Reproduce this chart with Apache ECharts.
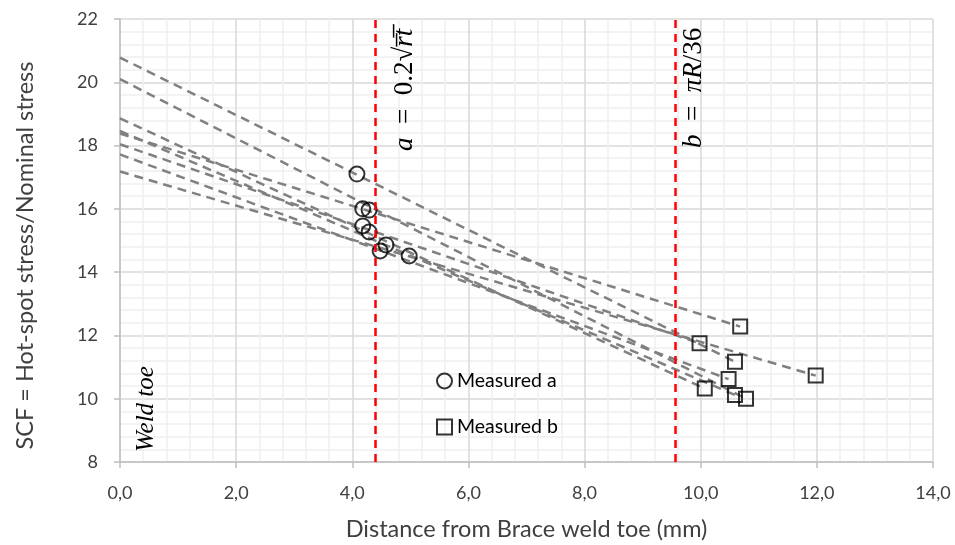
<!DOCTYPE html>
<html>
<head>
<meta charset="utf-8">
<script src="https://cdn.jsdelivr.net/npm/echarts@6/dist/echarts.min.js"></script>
<style>
html,body{margin:0;padding:0;background:#fff;}
#chart{width:955px;height:545px;}
</style>
</head>
<body>
<div id="chart"></div>
<script>
// ---- data ----
var measuredAX = [4.08, 4.18, 4.29, 4.18, 4.29, 4.58, 4.48, 4.98];
var measuredAY = [17.10, 16.00, 15.96, 15.46, 15.27, 14.86, 14.67, 14.51];
var measuredBX = [10.68, 9.98, 10.59, 10.48, 10.07, 10.59, 10.78, 11.98];
var measuredBY = [12.28, 11.75, 11.17, 10.62, 10.32, 10.12, 10.00, 10.73];
// extrapolated trend lines: value at weld toe (x = 0) and end point
var trendStartY = [20.78, 20.10, 18.86, 18.46, 18.38, 18.04, 17.72, 17.18];
var trendEndX = [10.59, 10.78, 10.07, 10.59, 10.68, 9.98, 10.48, 11.98];
var trendEndY = [11.17, 10.00, 10.32, 10.12, 12.28, 11.75, 10.62, 10.73];
var limitA = 4.4;
var limitB = 9.56;
var xTicks = [0, 2, 4, 6, 8, 10, 12, 14];
var yTicks = [8, 10, 12, 14, 16, 18, 20, 22];

var FONT = 'Lato';
var chart = echarts.init(document.getElementById('chart'));

var series = [];
for (var i = 0; i < trendStartY.length; i++) {
  series.push({
    type: 'line',
    name: 'trend' + i,
    data: [[0, trendStartY[i]], [trendEndX[i], trendEndY[i]]],
    symbol: 'none',
    silent: true,
    lineStyle: { color: '#808080', width: 2.5, type: [9, 6] },
    z: 2
  });
}
series.push({
  type: 'line',
  name: 'limits',
  data: [],
  markLine: {
    silent: true,
    symbol: 'none',
    label: { show: false },
    lineStyle: { color: '#ff0000', width: 2.5, type: [8, 6] },
    data: [{ xAxis: limitA }, { xAxis: limitB }]
  },
  z: 3
});
series.push({
  type: 'scatter',
  name: 'Measured a',
  symbol: 'circle',
  symbolSize: 15,
  data: measuredAX.map(function (x, i) { return [x, measuredAY[i]]; }),
  itemStyle: { color: 'rgba(255,255,255,0)', borderColor: '#000', borderWidth: 2 },
  z: 4
});
series.push({
  type: 'scatter',
  name: 'Measured b',
  symbol: 'rect',
  symbolSize: 14,
  data: measuredBX.map(function (x, i) { return [x, measuredBY[i]]; }),
  itemStyle: { color: 'rgba(255,255,255,0)', borderColor: '#000', borderWidth: 2 },
  z: 4
});

var axisCommon = {
  axisLine: { show: true, onZero: false, lineStyle: { color: '#bfbfbf', width: 1.5 } },
  axisTick: { show: true, inside: false, length: 6, lineStyle: { color: '#bfbfbf', width: 1.5 } },
  splitLine: { show: true, lineStyle: { color: '#d9d9d9', width: 1.5 } },
  minorTick: { show: false, splitNumber: 5 },
  minorSplitLine: { show: true, lineStyle: { color: '#f0f0f0', width: 1.5 } }
};

chart.setOption({
  animation: false,
  backgroundColor: '#fff',
  grid: { left: 120, right: 22, top: 19, bottom: 83, containLabel: false, outerBoundsMode: 'none' },
  legend: {
    data: ['Measured a', 'Measured b'],
    orient: 'vertical',
    left: 431,
    top: 366,
    itemGap: 26,
    itemWidth: 15,
    itemHeight: 15,
    textStyle: { fontFamily: FONT, fontSize: 19.5, color: '#000' }
  },
  xAxis: Object.assign({
    type: 'value',
    min: xTicks[0],
    max: xTicks[xTicks.length - 1],
    interval: 2,
    name: 'Distance from Brace weld toe (mm)',
    nameLocation: 'middle',
    nameGap: 55,
    nameTextStyle: { fontFamily: FONT, fontSize: 23.5, color: '#404040' },
    axisLabel: {
      margin: 22,
      fontFamily: FONT, fontSize: 18, color: '#404040',
      formatter: function (v) { return v.toFixed(1).replace('.', ','); }
    }
  }, axisCommon),
  yAxis: Object.assign({
    type: 'value',
    min: yTicks[0],
    max: yTicks[yTicks.length - 1],
    interval: 2,
    name: 'SCF = Hot-spot stress/Nominal stress',
    nameLocation: 'middle',
    nameGap: 83,
    nameTextStyle: { fontFamily: FONT, fontSize: 23.5, color: '#404040', padding: [0, 30, 0, 0] },
    axisLabel: {
      margin: 22,
      fontFamily: FONT, fontSize: 18, color: '#404040'
    }
  }, axisCommon),
  series: series
});

// rotated annotations
var pa = chart.convertToPixel({ gridIndex: 0 }, [limitA, 22]);
var pb = chart.convertToPixel({ gridIndex: 0 }, [limitB, 22]);
var p0 = chart.convertToPixel({ gridIndex: 0 }, [0, 8]);
var MATH = 'Liberation Serif';
var rich = {
  it: { fontFamily: MATH, fontStyle: 'italic', fontSize: 27, color: '#000' },
  rm: { fontFamily: MATH, fontSize: 27, color: '#000' }
};
chart.setOption({
  graphic: [
    {
      type: 'text', x: pa[0] + 29, y: pa[1] + 132, rotation: Math.PI / 2,
      style: {
        text: '{it|a}{rm|  =  0.2√}{it|r\u0305t\u0305}',
        rich: rich, align: 'left', verticalAlign: 'middle'
      }
    },
    {
      type: 'text', x: pb[0] + 19, y: pb[1] + 129, rotation: Math.PI / 2,
      style: {
        text: '{it|b}{rm|  =  }{it|πR}{rm|/36}',
        rich: rich, align: 'left', verticalAlign: 'middle'
      }
    },
    {
      type: 'text', x: p0[0] + 26, y: p0[1] - 10, rotation: Math.PI / 2,
      style: {
        text: '{it|Weld toe}',
        rich: { it: { fontFamily: MATH, fontStyle: 'italic', fontSize: 25, color: '#000' } },
        align: 'left', verticalAlign: 'middle'
      }
    }
  ]
});
</script>
</body>
</html>
